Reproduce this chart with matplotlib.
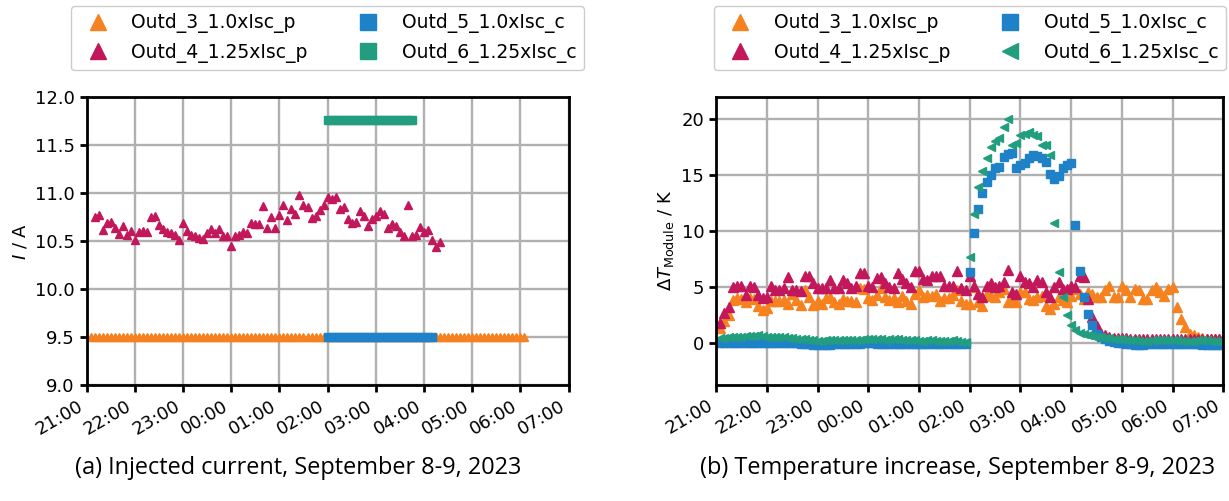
import numpy as np
import pandas as pd
import matplotlib
matplotlib.use("Agg")
import matplotlib.pyplot as plt
import matplotlib.dates as mdates

# ---------- data (5 min samples, Sept 8-9 2023) ----------
t_start = "2023-09-08 21:05"
n_samples = 120
times = pd.date_range(t_start, periods=n_samples, freq="5min")

labels = ["Outd_3_1.0xIsc_p", "Outd_4_1.25xIsc_p", "Outd_5_1.0xIsc_c", "Outd_6_1.25xIsc_c"]
colors = ["#F5821F", "#C2185B", "#1F82C8", "#229E7E"]

# injected current / A
cur_3 = [9.5] * 109          # 21:05 - 06:05
cur_4 = [10.75, 10.77, 10.61, 10.69, 10.70, 10.64, 10.57, 10.66, 10.56, 10.60,
         10.51, 10.59, 10.60, 10.59, 10.75, 10.76, 10.67, 10.63, 10.59, 10.58,
         10.565, 10.51, 10.69, 10.60, 10.565, 10.555, 10.53, 10.52, 10.58, 10.63,
         10.58, 10.62, 10.555, 10.55, 10.45, 10.55, 10.565, 10.59, 10.58, 10.69,
         10.68, 10.675, 10.86,
         10.635, 10.75, 10.64, 10.77, 10.88, 10.72, 10.83, 10.78, 10.98, 10.88,
         10.85, 10.74, 10.76, 10.82, 10.87, 10.96, 10.94, 10.96, 10.83, 10.85,
         10.73, 10.69, 10.70, 10.81, 10.76, 10.66, 10.73, 10.76, 10.81, 10.78,
         10.635, 10.68, 10.66, 10.59, 10.555, 10.87, 10.555, 10.56, 10.65, 10.59,
         10.61, 10.51, 10.44, 10.485]   # 21:10 - 04:20
cur_5 = [9.5] * 27           # 02:00 - 04:10
cur_6 = [11.76] * 22         # 02:00 - 03:45

# temperature increase / K
dT_3 = [1.3, 1.9, 2.5, 3.8, 4.0, 3.9, 3.6, 4.0, 3.9, 3.3, 2.9, 3.1, 3.7, 3.7, 3.7,
        3.8, 3.5, 4.4, 3.8, 3.4, 4.7, 4.1, 3.4, 3.7, 3.5, 4.0, 4.1, 3.6, 3.5, 3.9,
        3.7, 3.7, 3.6, 4.85, 4.8, 4.0, 3.8, 4.3, 4.85, 4.1, 3.8, 4.0, 3.6, 4.2, 3.7,
        3.5, 4.4, 4.7, 4.1, 4.3, 4.2, 4.4, 3.7, 4.0, 4.0, 4.3, 4.7, 3.7, 3.5,
        3.5, 5.0, 3.6, 3.3, 4.4, 4.2, 4.1, 4.5, 4.8, 3.6, 3.9, 3.6, 4.5, 4.5, 3.9,
        3.8, 4.1, 4.2, 3.3, 3.0, 3.5, 4.1, 3.8, 3.6, 4.2, 4.8,
        4.4, 3.9, 4.5, 4.4, 4.1, 4.1, 4.7, 5.1, 4.1, 4.1, 5.1, 4.7, 4.1, 4.8, 4.7,
        3.9, 3.9, 4.7, 5.0, 4.5, 4.2, 4.8, 5.0,
        3.2, 2.15, 1.4, 0.8, 0.65, 0.5, 0.4, 0.35, 0.3, 0.3, 0.3, 0.25]
dT_4 = [1.75, 2.65, 3.15, 5.0, 5.1, 5.1, 4.3, 5.1, 5.0, 4.25, 4.0, 4.1, 5.1, 4.7, 4.7,
        4.85, 5.9, 4.7, 4.7, 4.6, 6.0, 6.0, 5.3, 4.85, 4.85, 4.85, 5.6, 4.85, 4.9, 5.6,
        5.3, 4.85, 5.1, 6.2, 6.2, 5.1, 5.0, 5.8, 5.9, 5.3, 5.0, 4.85, 6.2, 5.7, 5.3,
        5.0, 6.4, 6.4, 5.7, 5.6, 6.0, 6.0, 6.0, 5.1, 5.1, 5.1, 6.4, 4.85, 4.7,
        6.0, 5.1, 4.4, 4.1, 5.1, 5.3, 5.0, 5.1, 5.4, 6.5, 4.5, 4.4, 6.0, 5.4, 5.3,
        5.0, 5.6, 5.4, 4.5, 4.1, 5.0, 5.4, 4.8, 4.8, 5.1, 5.0,
        6.0, 5.9, 3.9, 2.3, 1.5, 0.8, 0.65, 0.5, 0.45, 0.4, 0.4, 0.4, 0.35, 0.35, 0.3,
        0.3, 0.3, 0.3, 0.3, 0.3, 0.3, 0.3, 0.3, 0.3, 0.3, 0.3, 0.3, 0.35, 0.35, 0.35,
        0.35, 0.35, 0.35, 0.35, 0.35]
dT_5 = [0.0, 0.0, -0.05, -0.05, -0.05, -0.05, 0.0, 0.0, 0.0, 0.0, 0.0, -0.05, -0.05,
        -0.05, -0.05, 0.0, 0.0, -0.05, -0.05, -0.1, -0.1, -0.15, -0.2, -0.25, -0.25,
        -0.2, -0.2, -0.15, -0.15, -0.15, -0.1, -0.1, -0.1, -0.1, -0.05, -0.05, -0.05,
        -0.1, -0.1, -0.1, -0.1, -0.1, -0.1, -0.1, -0.15, -0.15, -0.15, -0.15, -0.15,
        -0.15, -0.15, -0.15, -0.15, -0.15, -0.15, -0.15, -0.1, -0.1, -0.1,
        6.3, 9.85, 12.0, 13.4, 14.4, 15.0, 15.6, 15.7, 16.6, 16.9, 17.0, 15.6, 15.9,
        16.1, 16.5, 16.8, 16.7, 16.5, 16.2, 15.1, 14.7, 14.9, 15.6, 15.9, 16.1, 10.5,
        6.4, 4.1, 2.6, 1.55, 0.8, 0.5, 0.3, 0.15, 0.05, 0.0, -0.05, -0.1, -0.15, -0.2,
        -0.2, -0.2, -0.15, -0.15, -0.15, -0.1, -0.1, -0.1, -0.1, -0.15, -0.15, -0.15,
        -0.15, -0.15, -0.15, -0.2, -0.2, -0.2, -0.2, -0.2, -0.2]
dT_6 = [0.45, 0.45, 0.5, 0.5, 0.55, 0.55, 0.6, 0.6, 0.6, 0.65, 0.6, 0.55, 0.55, 0.5,
        0.5, 0.5, 0.45, 0.4, 0.35, 0.3, 0.3, 0.25, 0.2, 0.15, 0.15, 0.2, 0.2, 0.25,
        0.25, 0.2, 0.2, 0.25, 0.2, 0.25, 0.3, 0.35, 0.35, 0.3, 0.3, 0.25, 0.3, 0.35,
        0.3, 0.25, 0.2, 0.2, 0.2, 0.15, 0.15, 0.2, 0.2, 0.15, 0.15, 0.15, 0.15, 0.2,
        0.15, 0.1, 0.1,
        7.7, 11.55, 13.9, 15.4, 16.5, 17.5, 18.1, 18.3, 19.3, 20.05, 17.7, 17.9, 18.6,
        18.7, 18.9, 18.6, 18.5, 17.7, 17.7, 16.8, 10.7, 6.3, 4.1, 2.5, 1.6, 1.1,
        0.9, 0.8, 0.7, 0.6, 0.55, 0.5, 0.45, 0.4, 0.35, 0.3, 0.3, 0.25, 0.2, 0.2, 0.15,
        0.15, 0.15, 0.2, 0.2, 0.2, 0.2, 0.25, 0.2, 0.2, 0.15, 0.15, 0.15, 0.15, 0.2,
        0.2, 0.2, 0.15, 0.15, 0.15, 0.15]

captions = ["(a) Injected current, September 8-9, 2023",
            "(b) Temperature increase, September 8-9, 2023"]

# ---------- plot ----------
plt.rcParams["font.family"] = "sans-serif"
plt.rcParams["font.sans-serif"] = ["DejaVu Sans"]
plt.rcParams["mathtext.fontset"] = "dejavusans"
fs = 13

fig = plt.figure(figsize=(12.29, 5.01), dpi=100)
ax1 = fig.add_axes([0.0704, 0.2315, 0.3923, 0.5749])
ax2 = fig.add_axes([0.5826, 0.2325, 0.4129, 0.5739])

ax1.plot(times[:109], cur_3, ls="none", marker="^", ms=6, color=colors[0], label=labels[0])
ax1.plot(times[1:88], cur_4, ls="none", marker="^", ms=6, color=colors[1], label=labels[1])
ax1.plot(times[59:86], cur_5, ls="none", marker="s", ms=5.5, color=colors[2], label=labels[2])
ax1.plot(times[59:81], cur_6, ls="none", marker="s", ms=5.5, color=colors[3], label=labels[3])

ax2.plot(times, dT_3, ls="none", marker="^", ms=6.5, color=colors[0], label=labels[0])
ax2.plot(times, dT_4, ls="none", marker="^", ms=6.5, color=colors[1], label=labels[1])
ax2.plot(times, dT_5, ls="none", marker="s", ms=5.5, color=colors[2], label=labels[2])
ax2.plot(times, dT_6, ls="none", marker="<", ms=6, color=colors[3], label=labels[3])

x0 = pd.Timestamp("2023-09-08 21:00")
x1 = pd.Timestamp("2023-09-09 07:00")
for ax in (ax1, ax2):
    ax.set_xlim(x0, x1)
    ax.xaxis.set_major_locator(mdates.HourLocator())
    ax.xaxis.set_major_formatter(mdates.DateFormatter("%H:%M"))
    ax.tick_params(width=2, length=5, labelsize=fs)
    for lab in ax.get_xticklabels():
        lab.set_rotation(30)
        lab.set_ha("right")
    ax.grid(True, color="#b0b0b0", lw=1.7)
    ax.set_axisbelow(True)
    for s in ax.spines.values():
        s.set_linewidth(2)
    leg = ax.legend(loc="lower center", bbox_to_anchor=(0.5, 1.06), ncol=2,
                    columnspacing=2.2, fontsize=13.5, framealpha=1, edgecolor="#cccccc")
    for h in leg.legend_handles:
        h.set_markersize(11)

ax1.set_ylim(9.0, 12.0)
ax1.set_yticks(np.arange(9.0, 12.01, 0.5))
ax1.set_ylabel("$I$ / A", fontsize=fs)

ax2.set_ylim(-3.75, 22)
ax2.set_yticks([0, 5, 10, 15, 20])
ax2.set_ylabel(r"$\Delta T_{\mathrm{Module}}$ / K", fontsize=fs)

# captions: size the font so caption (b) spans about 515 px
cap_a = fig.text(0.243, 0.066, captions[0], ha="center", va="center",
                 fontsize=18, family="Open Sans")
cap_b = fig.text(0.779, 0.066, captions[1], ha="center", va="center",
                 fontsize=18, family="Open Sans")
renderer = fig.canvas.get_renderer()
w = cap_b.get_window_extent(renderer).width
new_fs = 18 * 515.0 / w
cap_a.set_fontsize(new_fs)
cap_b.set_fontsize(new_fs)

fig.savefig("out.png", dpi=100)
